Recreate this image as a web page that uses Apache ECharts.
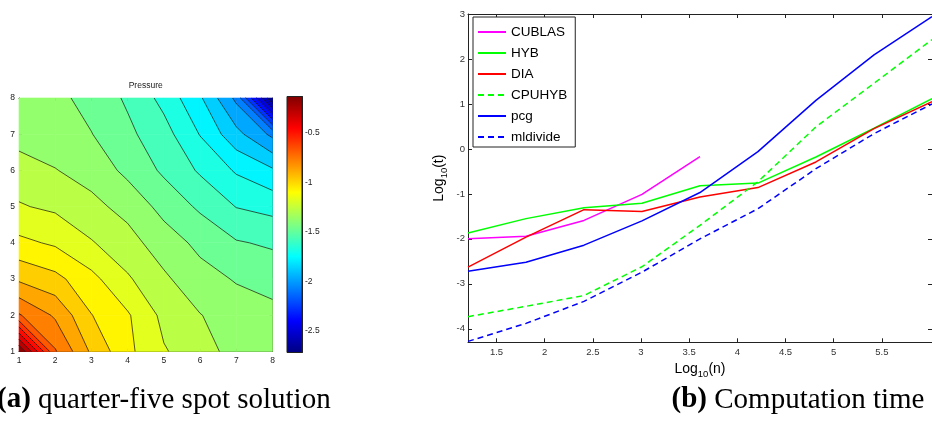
<!DOCTYPE html>
<html>
<head>
<meta charset="utf-8">
<script src="https://cdn.jsdelivr.net/npm/echarts@6/dist/echarts.min.js"></script>
<style>
  html, body { margin: 0; padding: 0; background: #fff; }
  #main { width: 932px; height: 423px; }
</style>
</head>
<body>
<div id="main"></div>
<script>
// ---------- (a) pressure field on the 8 x 8 grid ----------
const gridX = [1, 2, 3, 4, 5, 6, 7, 8];
const gridY = [1, 2, 3, 4, 5, 6, 7, 8];
// pressure[row for y][column for x]
const pressure = [
  [-0.131, -0.718, -0.943, -1.102, -1.217, -1.277, -1.366, -1.393],
  [-0.718, -0.842, -1.023, -1.114, -1.251, -1.321, -1.372, -1.396],
  [-0.943, -0.997, -1.096, -1.212, -1.308, -1.385, -1.432, -1.460],
  [-1.102, -1.140, -1.217, -1.290, -1.372, -1.450, -1.515, -1.538],
  [-1.217, -1.243, -1.300, -1.354, -1.458, -1.540, -1.626, -1.654],
  [-1.277, -1.321, -1.359, -1.450, -1.540, -1.636, -1.734, -1.807],
  [-1.366, -1.372, -1.421, -1.502, -1.584, -1.727, -1.889, -2.045],
  [-1.393, -1.396, -1.460, -1.538, -1.654, -1.807, -2.045, -2.717]
];
const contourCount = 25;
const gridTicks = [1, 2, 3, 4, 5, 6, 7, 8];
const colorbarTicks = [-2.5, -2, -1.5, -1, -0.5];

// ---------- (b) computation time, log10 scale ----------
const logN = [1.204, 1.806, 2.408, 3.010, 3.612, 4.214, 4.816, 5.419, 6.021];
const cublas   = [-2.00, -1.94, -1.59, -1.01, -0.17];
const hyb      = [-1.87, -1.55, -1.31, -1.21, -0.82, -0.76, -0.18, 0.46, 1.12];
const dia      = [-2.63, -1.96, -1.35, -1.39, -1.07, -0.86, -0.29, 0.45, 1.05];
const cpuhyb   = [-3.73, -3.50, -3.26, -2.62, -1.70, -0.73, 0.49, 1.46, 2.43];
const pcg      = [-2.72, -2.52, -2.14, -1.60, -0.97, -0.06, 1.08, 2.09, 2.94];
const mldivide = [-4.28, -3.88, -3.39, -2.74, -2.00, -1.33, -0.44, 0.34, 1.00];
const timeXTicks = [1.5, 2, 2.5, 3, 3.5, 4, 4.5, 5, 5.5];
const timeYTicks = [-4, -3, -2, -1, 0, 1, 2, 3];
const timeXRange = [1.204, 6.021];
const timeYRange = [-4.3, 3];

// ---------- helpers ----------
const SANS = "'Liberation Sans', Arial, Helvetica, sans-serif";
const SERIF = "'Liberation Serif', 'Times New Roman', serif";

const flat = pressure.flat();
const pMin = Math.min(...flat);
const pMax = Math.max(...flat);
const levelStep = (pMax - pMin) / (contourCount + 1);
const levels = [];
for (let k = 1; k <= contourCount; k++) levels.push(pMin + k * levelStep);

function clamp01(v) { return Math.max(0, Math.min(1, v)); }
function jet(t) {
  const r = clamp01(1.5 - Math.abs(4 * t - 3));
  const g = clamp01(1.5 - Math.abs(4 * t - 2));
  const b = clamp01(1.5 - Math.abs(4 * t - 1));
  return 'rgb(' + Math.round(r * 255) + ',' + Math.round(g * 255) + ',' + Math.round(b * 255) + ')';
}
function bandColor(b) { return jet((b + 0.5) / (contourCount + 1)); }

function cellCorners(i, j) {
  return [
    { x: gridX[i],     y: gridY[j],     v: pressure[j][i] },
    { x: gridX[i + 1], y: gridY[j],     v: pressure[j][i + 1] },
    { x: gridX[i + 1], y: gridY[j + 1], v: pressure[j + 1][i + 1] },
    { x: gridX[i],     y: gridY[j + 1], v: pressure[j + 1][i] }
  ];
}

// keep the part of a polygon above (or below) a level, interpolating along edges
function clipPoly(poly, level, keepAbove) {
  const out = [];
  for (let k = 0; k < poly.length; k++) {
    const a = poly[k], b = poly[(k + 1) % poly.length];
    const ina = keepAbove ? a.v >= level : a.v <= level;
    const inb = keepAbove ? b.v >= level : b.v <= level;
    if (ina) out.push(a);
    if (ina !== inb) {
      const s = (level - a.v) / (b.v - a.v);
      out.push({ x: a.x + s * (b.x - a.x), y: a.y + s * (b.y - a.y), v: level });
    }
  }
  return out;
}

const cells = [];
for (let j = 0; j < gridY.length - 1; j++) {
  for (let i = 0; i < gridX.length - 1; i++) cells.push([gridX[i], gridY[j], i, j]);
}

function renderFill(params, api) {
  const quad = cellCorners(api.value(2), api.value(3));
  const children = [];
  for (let b = 0; b <= levels.length; b++) {
    let poly = quad;
    if (b > 0) poly = clipPoly(poly, levels[b - 1], true);
    if (poly.length < 3) continue;
    if (b < levels.length) poly = clipPoly(poly, levels[b], false);
    if (poly.length < 3) continue;
    const c = bandColor(b);
    children.push({
      type: 'polygon',
      shape: { points: poly.map(p => api.coord([p.x, p.y])) },
      style: { fill: c, stroke: c, lineWidth: 0.6 },
      silent: true
    });
  }
  return { type: 'group', children };
}

function renderLines(params, api) {
  const q = cellCorners(api.value(2), api.value(3));
  const children = [];
  levels.forEach(L => {
    const pts = [];
    for (let e = 0; e < 4; e++) {
      const a = q[e], b = q[(e + 1) % 4];
      if ((a.v - L) * (b.v - L) < 0) {
        const s = (L - a.v) / (b.v - a.v);
        pts.push(api.coord([a.x + s * (b.x - a.x), a.y + s * (b.y - a.y)]));
      }
    }
    for (let k = 0; k + 1 < pts.length; k += 2) {
      children.push({
        type: 'line',
        shape: { x1: pts[k][0], y1: pts[k][1], x2: pts[k + 1][0], y2: pts[k + 1][1] },
        style: { stroke: '#111', lineWidth: 0.7 },
        silent: true
      });
    }
  });
  return { type: 'group', children };
}

function renderColorbar(params, api) {
  const p0 = api.coord([0, api.value(1)]);
  const p1 = api.coord([1, api.value(2)]);
  const stops = [];
  for (let k = 0; k <= 32; k++) stops.push({ offset: k / 32, color: jet(k / 32) });
  return {
    type: 'rect',
    shape: { x: p0[0], y: p1[1], width: p1[0] - p0[0], height: p0[1] - p1[1] },
    style: { fill: new echarts.graphic.LinearGradient(0, 1, 0, 0, stops), stroke: '#222', lineWidth: 1 },
    silent: true
  };
}

function boxAxis(extra) {
  return Object.assign({
    type: 'value',
    axisLine: { show: true, onZero: false, lineStyle: { color: '#222', width: 1 } },
    splitLine: { show: false },
    axisTick: { show: true, inside: true, length: 3, lineStyle: { color: '#222' } },
    axisLabel: { show: false }
  }, extra);
}

const pairs = arr => arr.map((v, k) => [logN[k], v]);
function lineSeries(name, arr, color, dashed) {
  return {
    name, type: 'line', xAxisIndex: 3, yAxisIndex: 4,
    data: pairs(arr), symbol: 'none', clip: true,
    lineStyle: { color, width: 1.5, type: dashed ? [6, 4] : 'solid' },
    itemStyle: { color },
    emphasis: { disabled: true }
  };
}

// axis titles with a subscript "10"
const labelRich = {
  m: { fontSize: 14, lineHeight: 20, verticalAlign: 'middle', fontFamily: SANS, color: '#000' },
  s: { fontSize: 9.5, lineHeight: 20, verticalAlign: 'bottom', fontFamily: SANS, color: '#000' }
};

const CAPTION_SIZE = 29;

const option = {
  animation: false,
  backgroundColor: '#fff',
  grid: [
    { left: 19, top: 98, width: 253.5, height: 253.5 },
    { left: 287, top: 96.5, width: 15, height: 256 },
    { left: 468, top: 14, width: 468.5, height: 328.3 }
  ],
  xAxis: [
    boxAxis({ gridIndex: 0, position: 'bottom', min: 1, max: 8, interval: 1,
      axisLabel: { show: true, fontSize: 8.5, color: '#222', fontFamily: SANS, margin: 5,
        customValues: gridTicks },
      axisTick: { show: true, inside: true, length: 3, customValues: gridTicks, lineStyle: { color: '#222' } } }),
    boxAxis({ gridIndex: 0, position: 'top', min: 1, max: 8, interval: 1 }),
    { type: 'value', gridIndex: 1, min: 0, max: 1, show: false },
    boxAxis({ gridIndex: 2, position: 'bottom', min: timeXRange[0], max: timeXRange[1],
      axisLabel: { show: true, fontSize: 9.5, color: '#333', fontFamily: SANS, margin: 5,
        customValues: timeXTicks },
      axisTick: { show: true, inside: true, length: 4, customValues: timeXTicks, lineStyle: { color: '#222' } },
      name: '{m|Log}{s|10}{m|(n)}', nameLocation: 'middle', nameGap: 12,
      nameTextStyle: { rich: labelRich } }),
    boxAxis({ gridIndex: 2, position: 'top', min: timeXRange[0], max: timeXRange[1],
      axisTick: { show: true, inside: true, length: 4, customValues: timeXTicks, lineStyle: { color: '#222' } } })
  ],
  yAxis: [
    boxAxis({ gridIndex: 0, position: 'left', min: 1, max: 8, interval: 1,
      axisLabel: { show: true, fontSize: 8.5, color: '#222', fontFamily: SANS, margin: 4,
        customValues: gridTicks },
      axisTick: { show: true, inside: true, length: 3, customValues: gridTicks, lineStyle: { color: '#222' } } }),
    boxAxis({ gridIndex: 0, position: 'right', min: 1, max: 8, interval: 1 }),
    boxAxis({ gridIndex: 1, position: 'right', min: pMin, max: pMax,
      axisLabel: { show: true, fontSize: 8.5, color: '#222', fontFamily: SANS, margin: 3,
        customValues: colorbarTicks },
      axisTick: { show: true, inside: true, length: 3, customValues: colorbarTicks, lineStyle: { color: '#222' } } }),
    boxAxis({ gridIndex: 1, position: 'left', min: pMin, max: pMax,
      axisTick: { show: true, inside: true, length: 3, customValues: colorbarTicks, lineStyle: { color: '#222' } } }),
    boxAxis({ gridIndex: 2, position: 'left', min: timeYRange[0], max: timeYRange[1],
      axisLabel: { show: true, fontSize: 9.5, color: '#333', fontFamily: SANS, margin: 3,
        customValues: timeYTicks },
      axisTick: { show: true, inside: true, length: 4, customValues: timeYTicks, lineStyle: { color: '#222' } },
      name: '{m|Log}{s|10}{m|(t)}', nameLocation: 'middle', nameGap: 19,
      nameTextStyle: { rich: labelRich } }),
    boxAxis({ gridIndex: 2, position: 'right', min: timeYRange[0], max: timeYRange[1],
      axisTick: { show: true, inside: true, length: 4, customValues: timeYTicks, lineStyle: { color: '#222' } } })
  ],
  legend: {
    orient: 'vertical', left: 473, top: 17,
    data: ['CUBLAS', 'HYB', 'DIA', 'CPUHYB', 'pcg', 'mldivide'],
    itemWidth: 28, itemHeight: 14, itemGap: 7,
    padding: [8, 8, 3, 4],
    borderColor: '#222', borderWidth: 1, backgroundColor: '#fff',
    selectedMode: false,
    itemStyle: { opacity: 0 },
    textStyle: { fontFamily: SANS, fontSize: 13.5, color: '#000' }
  },
  graphic: [
    { type: 'text', x: 145.7, y: 86, silent: true,
      style: { text: 'Pressure', font: '8.5px ' + SANS, fill: '#222', align: 'center', verticalAlign: 'middle' } },
    { type: 'text', x: -3, y: 400, silent: true,
      style: { text: '{b|(a)} quarter-five spot solution', font: CAPTION_SIZE + 'px ' + SERIF, fill: '#000',
        align: 'left', verticalAlign: 'middle',
        rich: { b: { fontWeight: 'bold', fontSize: CAPTION_SIZE, fontFamily: SERIF } } } },
    { type: 'text', x: 798, y: 400, silent: true,
      style: { text: '{b|(b)} Computation time', font: CAPTION_SIZE + 'px ' + SERIF, fill: '#000',
        align: 'center', verticalAlign: 'middle',
        rich: { b: { fontWeight: 'bold', fontSize: CAPTION_SIZE, fontFamily: SERIF } } } }
  ],
  series: [
    { type: 'custom', name: 'fill', xAxisIndex: 0, yAxisIndex: 0, data: cells,
      encode: { x: 0, y: 1 }, renderItem: renderFill, silent: true },
    { type: 'custom', name: 'isolines', xAxisIndex: 0, yAxisIndex: 0, data: cells, z: 3,
      encode: { x: 0, y: 1 }, renderItem: renderLines, silent: true },
    { type: 'custom', name: 'colorbar', xAxisIndex: 2, yAxisIndex: 2, data: [[0, pMin, pMax]],
      encode: { x: 0, y: [1, 2] }, renderItem: renderColorbar, silent: true },
    lineSeries('CUBLAS', cublas, '#ff00ff', false),
    lineSeries('HYB', hyb, '#00ff00', false),
    lineSeries('DIA', dia, '#ff0000', false),
    lineSeries('CPUHYB', cpuhyb, '#00ff00', true),
    lineSeries('pcg', pcg, '#0000ff', false),
    lineSeries('mldivide', mldivide, '#0000ff', true)
  ]
};

const chart = echarts.init(document.getElementById('main'), null, { renderer: 'canvas' });
chart.setOption(option);
</script>
</body>
</html>
